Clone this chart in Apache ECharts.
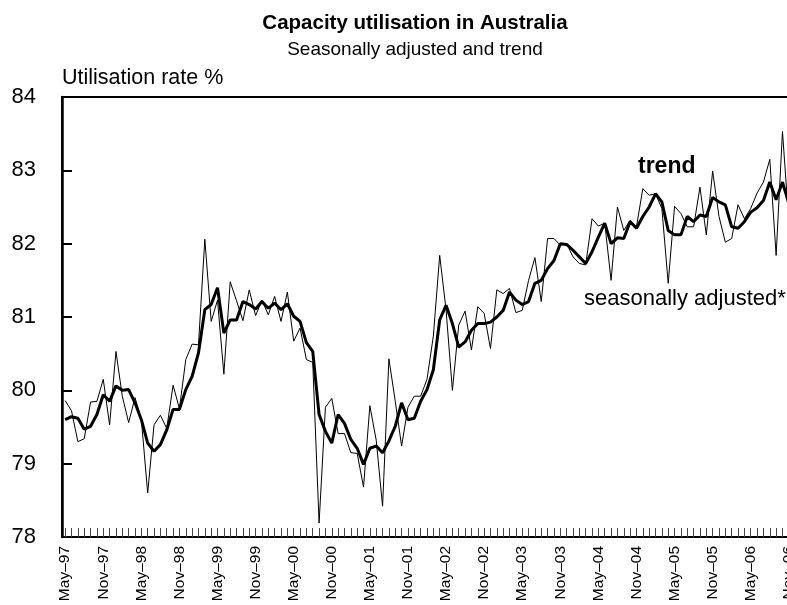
<!DOCTYPE html>
<html>
<head>
<meta charset="utf-8">
<title>Capacity utilisation in Australia</title>
<script src="https://cdn.jsdelivr.net/npm/echarts@6/dist/echarts.min.js"></script>
<style>
  html, body { margin: 0; padding: 0; background: #fff; }
  #chart { width: 787px; height: 605px; }
</style>
</head>
<body>
<div id="chart"></div>
<script>
// monthly, May-97 to Nov-06
const monthNames = ['Jan', 'Feb', 'Mar', 'Apr', 'May', 'Jun', 'Jul', 'Aug', 'Sep', 'Oct', 'Nov', 'Dec']
const firstYear = 1997
const firstMonth = 4
const monthCount = 115

const categories = []
for (let i = 0; i < monthCount; i++) {
  const m = (firstMonth + i) % 12
  const y = firstYear + Math.floor((firstMonth + i) / 12)
  categories.push(monthNames[m] + '\u2013' + String(y % 100).padStart(2, '0'))
}

const seasonallyAdjusted = [
  79.86, 79.72, 79.30, 79.34, 79.84, 79.85, 80.15, 79.53, 80.53, 79.92,
  79.56, 79.90, 79.60, 78.60, 79.53, 79.66, 79.48, 80.07, 79.75, 80.42,
  80.63, 80.62, 82.06, 80.94, 81.23, 80.22, 81.48, 81.22, 80.95, 81.37,
  81.02, 81.23, 81.03, 81.28, 80.94, 81.34, 80.67, 80.85, 80.42, 80.38,
  78.19, 79.77, 79.89, 79.41, 79.41, 79.15, 79.14, 78.68, 79.79, 79.32,
  78.42, 80.43, 79.85, 79.24, 79.77, 79.92, 79.92, 80.15, 80.74, 81.84,
  81.10, 80.00, 80.89, 81.08, 80.55, 81.14, 81.05, 80.57, 81.37, 81.32,
  81.39, 81.06, 81.09, 81.50, 81.81, 81.21, 82.07, 82.07, 81.98, 82.00,
  81.82, 81.73, 81.71, 82.34, 82.24, 82.28, 81.50, 82.50, 82.18, 82.32,
  82.23, 82.75, 82.66, 82.68, 82.48, 81.46, 82.51, 82.41, 82.23, 82.23,
  82.77, 82.12, 82.99, 82.37, 82.02, 82.07, 82.53, 82.34, 82.48, 82.69,
  82.84, 83.15, 81.84, 83.53, 82.30
]

const trend = [
  79.60, 79.64, 79.62, 79.47, 79.51, 79.67, 79.94, 79.85, 80.06, 80.00,
  80.01, 79.83, 79.60, 79.28, 79.17, 79.26, 79.46, 79.74, 79.74, 80.01,
  80.19, 80.51, 81.10, 81.17, 81.40, 80.78, 80.96, 80.96, 81.21, 81.17,
  81.11, 81.21, 81.12, 81.19, 81.10, 81.18, 81.01, 80.94, 80.65, 80.53,
  79.67, 79.44, 79.28, 79.67, 79.55, 79.33, 79.21, 78.99, 79.21, 79.24,
  79.15, 79.31, 79.51, 79.83, 79.60, 79.62, 79.85, 80.01, 80.28, 80.96,
  81.16, 80.91, 80.59, 80.66, 80.82, 80.91, 80.91, 80.93, 81.00, 81.09,
  81.34, 81.23, 81.17, 81.21, 81.46, 81.50, 81.66, 81.77, 82.00, 81.99,
  81.91, 81.82, 81.73, 81.89, 82.09, 82.28, 82.00, 82.08, 82.07, 82.30,
  82.21, 82.37, 82.50, 82.68, 82.57, 82.18, 82.12, 82.12, 82.37, 82.30,
  82.39, 82.37, 82.63, 82.57, 82.53, 82.23, 82.21, 82.30, 82.43, 82.49,
  82.59, 82.84, 82.60, 82.84, 82.55
]

const font = 'Liberation Sans, Arial, Helvetica, sans-serif'

const chart = echarts.init(document.getElementById('chart'), null, { renderer: 'canvas' })

chart.setOption({
  animation: false,
  backgroundColor: '#fff',
  textStyle: { fontFamily: font, color: '#000' },
  title: {
    text: 'Capacity utilisation in Australia',
    subtext: 'Seasonally adjusted and trend',
    left: 410,
    textAlign: 'center',
    top: 8,
    itemGap: 6,
    textStyle: { fontFamily: font, fontSize: 20.5, fontWeight: 'bold', color: '#000' },
    subtextStyle: { fontFamily: font, fontSize: 19, color: '#000' }
  },
  grid: {
    left: 62,
    right: -5,
    top: 97,
    bottom: 68,
    outerBoundsMode: 'none',
    containLabel: false,
    show: true,
    borderColor: '#000',
    borderWidth: 2
  },
  xAxis: {
    type: 'category',
    data: categories,
    boundaryGap: true,
    axisLine: { lineStyle: { color: '#000', width: 2 } },
    axisTick: {
      show: true,
      inside: true,
      alignWithLabel: true,
      interval: 0,
      length: 9,
      lineStyle: { color: '#444', width: 1 }
    },
    axisLabel: {
      interval: 5,
      rotate: 90,
      margin: 9,
      fontSize: 15.5,
      color: '#000',
      fontFamily: font
    },
    splitLine: { show: false }
  },
  yAxis: {
    type: 'value',
    min: 78,
    max: 84,
    interval: 1,
    name: 'Utilisation rate %',
    nameLocation: 'end',
    nameGap: 8,
    nameTextStyle: { fontFamily: font, fontSize: 21.5, color: '#000', align: 'left' },
    axisLine: { show: true, lineStyle: { color: '#000', width: 2.5 } },
    axisTick: { show: true, inside: true, length: 10, lineStyle: { color: '#000', width: 2 } },
    axisLabel: { margin: 26, fontSize: 22, color: '#000', fontFamily: font },
    splitLine: { show: false }
  },
  graphic: [
    {
      type: 'text',
      left: 638,
      top: 155,
      style: { text: 'trend', font: 'bold 23px ' + font, fill: '#000' }
    },
    {
      type: 'text',
      left: 584,
      top: 288,
      style: { text: 'seasonally adjusted*', font: '22px ' + font, fill: '#000' }
    }
  ],
  series: [
    {
      name: 'seasonally adjusted*',
      type: 'line',
      data: seasonallyAdjusted,
      showSymbol: false,
      lineStyle: { color: '#000', width: 1 },
      z: 2
    },
    {
      name: 'trend',
      type: 'line',
      data: trend,
      showSymbol: false,
      lineStyle: { color: '#000', width: 3 },
      z: 3
    }
  ]
})
</script>
</body>
</html>
